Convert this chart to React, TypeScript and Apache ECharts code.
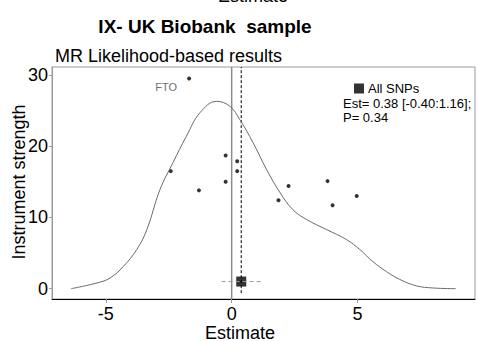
import React, { useEffect, useRef } from "react";
import * as echarts from "echarts";

const xTicks = [-5, 0, 5];
const yTicks = [0, 10, 20, 30];

// SNP estimates (x) and instrument strength (y)
const snpX = [-1.69, -2.42, -1.3, -0.24, -0.24, 0.22, 0.22, 1.86, 2.26, 3.81, 4.01, 4.97];
const snpY = [29.5, 16.5, 13.8, 18.7, 15.0, 17.9, 16.5, 12.4, 14.4, 15.1, 11.7, 13.0];
const snpLabels = ["FTO", "", "", "", "", "", "", "", "", "", "", ""];

// scaled density curve
const curveX = [-6.38, -5.35, -4.83, -4.31, -3.77, -3.37, -2.85, -2.33, -1.8, -1.26, -0.6, -0.07, 0.33, 0.85, 1.39, 1.92, 2.43, 2.98, 3.77, 4.56, 5.09, 5.61, 6.15, 6.68, 7.34, 7.99, 8.9];
const curveY = [0.0, 0.8, 1.5, 3.1, 5.5, 8.3, 13.9, 17.7, 21.4, 24.7, 26.3, 25.6, 23.7, 20.5, 16.7, 13.5, 11.1, 9.7, 8.3, 6.9, 5.5, 3.8, 2.4, 1.3, 0.4, 0.1, 0.0];

// summary estimate
const estimate = 0.38;
const ciLow = -0.4;
const ciHigh = 1.16;
const summaryY = 1.0;
const pValue = 0.34;

const xMin = -7.14;
const xMax = 9.67;
const yMin = -1.45;
const yMax = 31.12;

const FONT = "Liberation Sans, Arial, sans-serif";

export default function App() {
  const ref = useRef<HTMLDivElement>(null);
  useEffect(() => {
    document.body.style.margin = "0";
    if (!ref.current) return;
    const chart = echarts.init(ref.current, null, { renderer: "svg" });
    chart.setOption({
      animation: false,
      textStyle: { fontFamily: FONT },
      grid: {
        left: 52,
        top: 67,
        width: 423,
        height: 232,
        outerBoundsMode: "none",
        containLabel: false,
        show: true,
        borderColor: "#9a9a9a",
        borderWidth: 1,
        backgroundColor: "transparent",
      },
      title: [
        {
          text: "IX- UK Biobank  sample",
          left: 200,
          top: 12,
          textAlign: "center",
          textStyle: { fontFamily: FONT, fontSize: 19, fontWeight: "bold", color: "#000" },
        },
        {
          text: "MR Likelihood-based results",
          left: 55,
          top: 47,
          padding: 0,
          textStyle: { fontFamily: FONT, fontSize: 18, fontWeight: "normal", color: "#000" },
        },
      ],
      legend: {
        data: [{ name: "All SNPs", icon: "rect" }],
        left: 354,
        top: 82,
        padding: 0,
        itemWidth: 10,
        itemHeight: 10,
        itemGap: 4,
        textStyle: { fontFamily: FONT, fontSize: 13, color: "#000", padding: [0, 0, 0, -1] },
      },
      graphic: [
        {
          type: "text",
          left: 343,
          top: 97,
          style: { text: `Est= ${estimate.toFixed(2)} [${ciLow.toFixed(2)}:${ciHigh.toFixed(2)}];`, font: `13px ${FONT}`, fill: "#000" },
        },
        {
          type: "text",
          left: 343,
          top: 111,
          style: { text: `P= ${pValue.toFixed(2)}`, font: `13px ${FONT}`, fill: "#000" },
        },
        {
          type: "text",
          x: 253,
          y: 5,
          style: { text: "Estimate", font: `18px ${FONT}`, fill: "#000", align: "center", verticalAlign: "bottom" },
        },
        {
          type: "text",
          x: 240,
          y: 324,
          style: { text: "Estimate", font: `18px ${FONT}`, fill: "#000", align: "center", verticalAlign: "top" },
        },
        {
          type: "text",
          x: 19,
          y: 182,
          rotation: Math.PI / 2,
          style: { text: "Instrument strength", font: `18px ${FONT}`, fill: "#000", align: "center", verticalAlign: "middle" },
        },
      ],
      xAxis: {
        type: "value",
        min: xMin,
        max: xMax,
        axisLine: { show: true, onZero: false, lineStyle: { color: "#000", width: 1 } },
        axisTick: { show: true, customValues: xTicks, length: 4, lineStyle: { color: "#9a9a9a" } },
        splitLine: { show: false },
        axisLabel: { customValues: xTicks, fontFamily: FONT, fontSize: 18, color: "#000", margin: 6 },
      },
      yAxis: {
        type: "value",
        min: yMin,
        max: yMax,
        axisLine: { show: true, onZero: false, lineStyle: { color: "#9a9a9a", width: 1 } },
        axisTick: { show: true, customValues: yTicks, length: 3, lineStyle: { color: "#9a9a9a" } },
        splitLine: { show: false },
        axisLabel: { customValues: yTicks, fontFamily: FONT, fontSize: 18, color: "#000", margin: 4 },
      },
      series: [
        {
          type: "line",
          data: [[0, yMin], [0, yMax]],
          symbol: "none",
          lineStyle: { color: "#8c8c8c", width: 1.5 },
          silent: true,
        },
        {
          type: "line",
          data: [[estimate, -0.63], [estimate, yMax]],
          symbol: "none",
          lineStyle: { color: "#000", width: 1, type: [3, 2] },
          silent: true,
        },
        {
          type: "line",
          data: curveX.map((x, i) => [x, curveY[i]]),
          smooth: 0.4,
          symbol: "none",
          lineStyle: { color: "#6b6b6b", width: 1 },
        },
        {
          type: "scatter",
          data: snpX.map((x, i) => ({
            value: [x, snpY[i]],
            label: snpLabels[i]
              ? {
                  show: true,
                  formatter: snpLabels[i],
                  position: "left",
                  distance: 10,
                  offset: [0, 8],
                  fontFamily: FONT,
                  fontSize: 11,
                  color: "#444",
                }
              : { show: false },
          })),
          symbol: "circle",
          symbolSize: 4,
          itemStyle: { color: "#000" },
        },
        {
          type: "line",
          data: [[ciLow, summaryY], [ciHigh, summaryY]],
          symbol: "none",
          lineStyle: { color: "#9a9a9a", width: 1, type: [4, 3] },
        },
        {
          name: "All SNPs",
          type: "scatter",
          data: [[estimate, summaryY]],
          symbol: "rect",
          symbolSize: 10,
          itemStyle: { color: "#000" },
        },
      ],
    });
    return () => chart.dispose();
  }, []);
  return <div ref={ref} style={{ width: 478, height: 341 }} />;
}
